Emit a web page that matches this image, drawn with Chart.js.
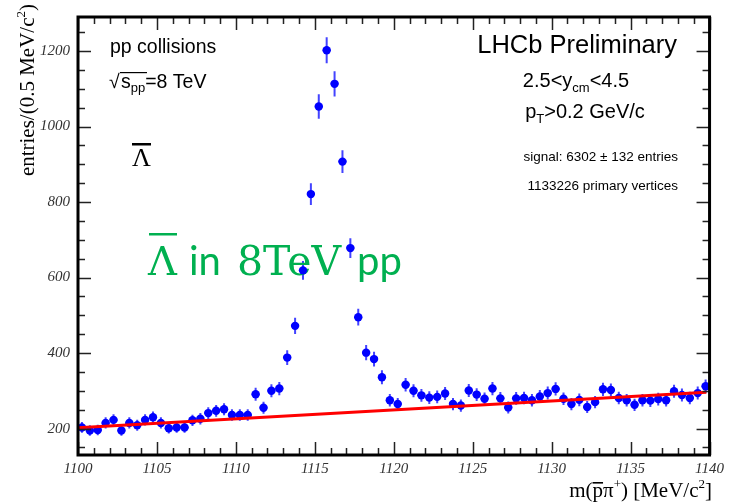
<!DOCTYPE html>
<html>
<head>
<meta charset="utf-8">
<script src="https://cdn.jsdelivr.net/npm/chart.js@4"></script>
<style>
  body { margin: 0; background: #fff; }
  #wrap { width: 729px; height: 504px; }
</style>
</head>
<body>
<div id="wrap"><canvas id="massChart" width="729" height="504"></canvas></div>
<script>
// bin centres, 0.5 MeV bins
const binCenters = [
  1100.25, 1100.75, 1101.25, 1101.75, 1102.25, 1102.75, 1103.25, 1103.75, 1104.25, 1104.75,
  1105.25, 1105.75, 1106.25, 1106.75, 1107.25, 1107.75, 1108.25, 1108.75, 1109.25, 1109.75,
  1110.25, 1110.75, 1111.25, 1111.75, 1112.25, 1112.75, 1113.25, 1113.75, 1114.25, 1114.75,
  1115.25, 1115.75, 1116.25, 1116.75, 1117.25, 1117.75, 1118.25, 1118.75, 1119.25, 1119.75,
  1120.25, 1120.75, 1121.25, 1121.75, 1122.25, 1122.75, 1123.25, 1123.75, 1124.25, 1124.75,
  1125.25, 1125.75, 1126.25, 1126.75, 1127.25, 1127.75, 1128.25, 1128.75, 1129.25, 1129.75,
  1130.25, 1130.75, 1131.25, 1131.75, 1132.25, 1132.75, 1133.25, 1133.75, 1134.25, 1134.75,
  1135.25, 1135.75, 1136.25, 1136.75, 1137.25, 1137.75, 1138.25, 1138.75, 1139.25, 1139.75
];
const entries = [
  203, 195, 196, 215, 223, 195, 215, 209, 223, 230,
  215, 201, 203, 203, 222, 226, 241, 247, 251, 236,
  236, 236, 291, 255, 300, 306, 388, 472, 619, 821,
  1053, 1202, 1113, 907, 678, 495, 401, 384, 336, 275,
  265, 316, 300, 288, 282, 284, 293, 265, 261, 301,
  290, 279, 306, 280, 256, 280, 281, 275, 285, 294,
  305, 279, 265, 276, 257, 270, 304, 302, 281, 275,
  263, 275, 274, 278, 275, 299, 289, 281, 294, 312
];
// linear background fit, end points
const fitX = [1100, 1139.8];
const fitY = [202, 296];

const xTicks = [1100, 1105, 1110, 1115, 1120, 1125, 1130, 1135, 1140];
const yTicks = [200, 400, 600, 800, 1000, 1200];

const points = binCenters.map((x, i) => ({ x: x, y: entries[i] }));
const fitLine = fitX.map((x, i) => ({ x: x, y: fitY[i] }));

// draws a row of text pieces: {t, f, dy, bar}
function drawRuns(ctx, parts, x, y, align) {
  let w = 0;
  parts.forEach(p => { ctx.font = p.f; p.w = ctx.measureText(p.t).width; w += p.w; });
  let cx = align === 'right' ? x - w : align === 'center' ? x - w / 2 : x;
  parts.forEach(p => {
    ctx.font = p.f;
    ctx.fillText(p.t, cx, y + (p.dy || 0));
    if (p.bar) {
      ctx.fillRect(cx, y + (p.dy || 0) - p.bar[0], p.w, p.bar[1]);
    }
    cx += p.w;
  });
}

const errorBars = {
  id: 'errorBars',
  beforeDatasetsDraw(chart) {
    const ctx = chart.ctx, xs = chart.scales.x, ys = chart.scales.y;
    ctx.save();
    ctx.strokeStyle = 'rgba(20,20,255,0.8)';
    ctx.lineWidth = 2;
    points.forEach(p => {
      const err = Math.sqrt(p.y);
      const px = xs.getPixelForValue(p.x);
      ctx.beginPath();
      ctx.moveTo(px, ys.getPixelForValue(p.y - err));
      ctx.lineTo(px, ys.getPixelForValue(p.y + err));
      ctx.moveTo(xs.getPixelForValue(p.x - 0.25), ys.getPixelForValue(p.y));
      ctx.lineTo(xs.getPixelForValue(p.x + 0.25), ys.getPixelForValue(p.y));
      ctx.stroke();
    });

    // big green caption sits under the markers
    ctx.fillStyle = '#00b050';
    ctx.textBaseline = 'alphabetic';
    ctx.font = '40px "DejaVu Serif"';
    ctx.fillText('\u039B', 148, 275);
    ctx.fillRect(149, 233, 28, 2.5);
    ctx.font = '40px Lato';
    ctx.fillText('in', 189, 275);
    ctx.font = '41px "DejaVu Serif"';
    ctx.fillText('8TeV', 237, 275);
    ctx.font = '40px Lato';
    ctx.fillText('pp', 357, 275);
    ctx.restore();
  }
};

const frameAndLabels = {
  id: 'frameAndLabels',
  afterDraw(chart) {
    const ctx = chart.ctx, a = chart.chartArea;
    const xs = chart.scales.x, ys = chart.scales.y;
    ctx.save();

    // tick marks on all four sides, pointing inwards
    ctx.strokeStyle = '#222';
    ctx.lineWidth = 1.5;
    ctx.beginPath();
    for (let v = 1100; v <= 1140; v += 1) {
      const px = Math.round(xs.getPixelForValue(v)) + 0.5;
      const len = xTicks.includes(v) ? 13 : 7;
      ctx.moveTo(px, a.bottom); ctx.lineTo(px, a.bottom - len);
      ctx.moveTo(px, a.top); ctx.lineTo(px, a.top + len);
    }
    for (let v = 150; v <= 1250; v += 50) {
      const py = Math.round(ys.getPixelForValue(v)) + 0.5;
      const len = yTicks.includes(v) ? 13 : 7;
      ctx.moveTo(a.left, py); ctx.lineTo(a.left + len, py);
      ctx.moveTo(a.right, py); ctx.lineTo(a.right - len, py);
    }
    ctx.stroke();

    ctx.strokeStyle = '#000';
    ctx.lineWidth = 3;
    ctx.strokeRect(a.left, a.top, a.right - a.left, a.bottom - a.top);

    ctx.fillStyle = '#000';
    ctx.textBaseline = 'alphabetic';

    // axis titles
    const serif = '"Liberation Serif"';
    drawRuns(ctx, [
      { t: 'm(', f: '21px ' + serif },
      { t: 'p', f: '21px ' + serif, bar: [15, 1.6] },
      { t: '\u03C0', f: '21px ' + serif },
      { t: '+', f: '13px ' + serif, dy: -9 },
      { t: ') [MeV/c', f: '21px ' + serif },
      { t: '2', f: '13px ' + serif, dy: -9 },
      { t: ']', f: '21px ' + serif }
    ], 712, 497, 'right');

    ctx.save();
    ctx.translate(34, 4);
    ctx.rotate(-Math.PI / 2);
    drawRuns(ctx, [
      { t: 'entries/(0.5 MeV/c', f: '21px ' + serif },
      { t: '2', f: '13px ' + serif, dy: -9 },
      { t: ')', f: '21px ' + serif }
    ], 0, 0, 'right');
    ctx.restore();

    // left block
    const sans = '"Liberation Sans"';
    ctx.font = '19.5px ' + sans;
    ctx.fillText('pp collisions', 110, 53);
    ctx.fillText('\u221A', 109, 88);
    ctx.fillRect(120, 72, 27, 1.2);
    drawRuns(ctx, [
      { t: 's', f: '19.5px ' + sans },
      { t: 'pp', f: '13px ' + sans, dy: 4 },
      { t: '=8 TeV', f: '19.5px ' + sans }
    ], 121, 88, 'left');

    ctx.font = '26px ' + serif;
    ctx.fillText('\u039B', 132, 166);
    ctx.fillRect(132, 143, 19, 2.5);

    // right block
    ctx.font = '25.5px ' + sans;
    ctx.textAlign = 'right';
    ctx.fillText('LHCb Preliminary', 677, 53);
    ctx.textAlign = 'left';
    drawRuns(ctx, [
      { t: '2.5<y', f: '20px ' + sans },
      { t: 'cm', f: '13px ' + sans, dy: 5 },
      { t: '<4.5', f: '20px ' + sans }
    ], 576, 87, 'center');
    drawRuns(ctx, [
      { t: 'p', f: '20px ' + sans },
      { t: 'T', f: '13px ' + sans, dy: 5 },
      { t: '>0.2 GeV/c', f: '20px ' + sans }
    ], 585, 118, 'center');
    ctx.font = '13.5px ' + sans;
    ctx.textAlign = 'right';
    ctx.fillText('signal: 6302 \u00B1 132 entries', 678, 161);
    ctx.fillText('1133226 primary vertices', 678, 190);
    ctx.restore();
  }
};

new Chart(document.getElementById('massChart'), {
  type: 'scatter',
  data: {
    datasets: [
      {
        type: 'line',
        label: 'fit',
        data: fitLine,
        borderColor: '#ff0000',
        borderWidth: 3,
        pointRadius: 0,
        order: 0
      },
      {
        label: 'entries',
        data: points,
        backgroundColor: '#0000ff',
        borderWidth: 0,
        pointRadius: 4.2,
        order: 1
      }
    ]
  },
  options: {
    responsive: false,
    animation: false,
    devicePixelRatio: 1,
    layout: { padding: { top: 8, right: 17, left: 0, bottom: 0 } },
    plugins: {
      legend: { display: false },
      tooltip: { enabled: false }
    },
    scales: {
      x: {
        type: 'linear',
        min: 1100,
        max: 1140,
        afterBuildTicks: s => { s.ticks = xTicks.map(v => ({ value: v })); },
        afterFit: s => { s.height = 49; },
        grid: { display: false, drawTicks: false },
        border: { display: false },
        ticks: {
          padding: 5,
          maxRotation: 0,
          color: '#333',
          font: { family: 'Liberation Serif', style: 'italic', size: 15 },
          callback: v => v
        }
      },
      y: {
        min: 130,
        max: 1290,
        afterBuildTicks: s => { s.ticks = yTicks.map(v => ({ value: v })); },
        afterFit: s => { s.width = 78; },
        grid: { display: false, drawTicks: false },
        border: { display: false },
        ticks: {
          padding: 8,
          color: '#333',
          font: { family: 'Liberation Serif', style: 'italic', size: 15 },
          callback: v => v
        }
      }
    }
  },
  plugins: [errorBars, frameAndLabels]
});
</script>
</body>
</html>
